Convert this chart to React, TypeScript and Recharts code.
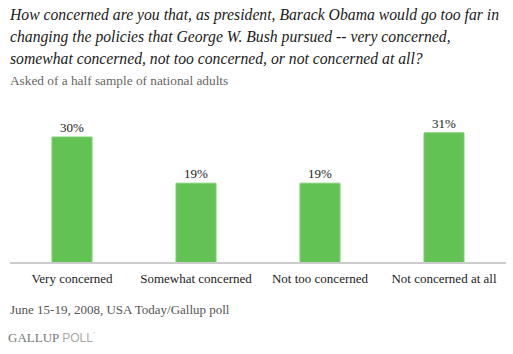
import React from "react";
import { BarChart, Bar, XAxis, YAxis, LabelList } from "recharts";

const categories = ["Very concerned", "Somewhat concerned", "Not too concerned", "Not concerned at all"];
const values = [30, 19, 19, 31];
const valueLabels = ["30%", "19%", "19%", "31%"];

const titleLines = [
  "How concerned are you that, as president, Barack Obama would go too far in",
  "changing the policies that George W. Bush pursued -- very concerned,",
  "somewhat concerned, not too concerned, or not concerned at all?",
];
const subtitle = "Asked of a half sample of national adults";
const footer = "June 15-19, 2008, USA Today/Gallup poll";

const data = categories.map((c, i) => ({ name: c, value: values[i], label: valueLabels[i] }));

const serif = "'Liberation Serif', 'Times New Roman', serif";

export default function App() {
  return (
    <div style={{ position: "absolute", left: 0, top: 0, width: 513, height: 354, background: "#fff", overflow: "hidden" }}>
      <div style={{ position: "absolute", left: 10, top: 4, fontFamily: serif, fontStyle: "italic", fontSize: 15.7, lineHeight: "22px", color: "#1a1a1a", whiteSpace: "nowrap" }}>
        {titleLines.map((l, i) => (
          <div key={i}>{l}</div>
        ))}
      </div>
      <div style={{ position: "absolute", left: 10, top: 73, fontFamily: serif, fontSize: 13.3, color: "#666", whiteSpace: "nowrap" }}>
        {subtitle}
      </div>
      <div style={{ position: "absolute", left: 0, top: 0 }}>
        <BarChart width={513} height={354} data={data} margin={{ top: 116, right: 7, left: 10, bottom: 61 }}>
          <XAxis
            dataKey="name"
            height={30}
            axisLine={{ stroke: "#cccccc", strokeWidth: 2 }}
            tickLine={false}
            tick={{ fontFamily: serif, fontSize: 13, fill: "#222", dy: 3 }}
            interval={0}
          />
          <YAxis hide domain={[0, 35]} />
          <Bar dataKey="value" barSize={40} fill="#63c254" stroke="#7dcf70" strokeWidth={1} isAnimationActive={false}>
            <LabelList dataKey="label" position="top" offset={5} style={{ fontFamily: serif, fontSize: 13, fill: "#222" }} />
          </Bar>
        </BarChart>
      </div>
      <div style={{ position: "absolute", left: 10, top: 302, fontFamily: serif, fontSize: 13, color: "#555", whiteSpace: "nowrap" }}>
        {footer}
      </div>
      <div style={{ position: "absolute", left: 8, top: 330, whiteSpace: "nowrap", fontSize: 13 }}>
        <span style={{ fontFamily: serif, color: "#777" }}>GALLUP</span>
        <span style={{ fontFamily: "'Liberation Sans', Arial, sans-serif", color: "#aaa", marginLeft: 3, fontSize: 12 }}>POLL</span>
        <span style={{ fontFamily: "'Liberation Sans', Arial, sans-serif", color: "#bbb", fontSize: 8, verticalAlign: "top" }}>'</span>
      </div>
    </div>
  );
}
